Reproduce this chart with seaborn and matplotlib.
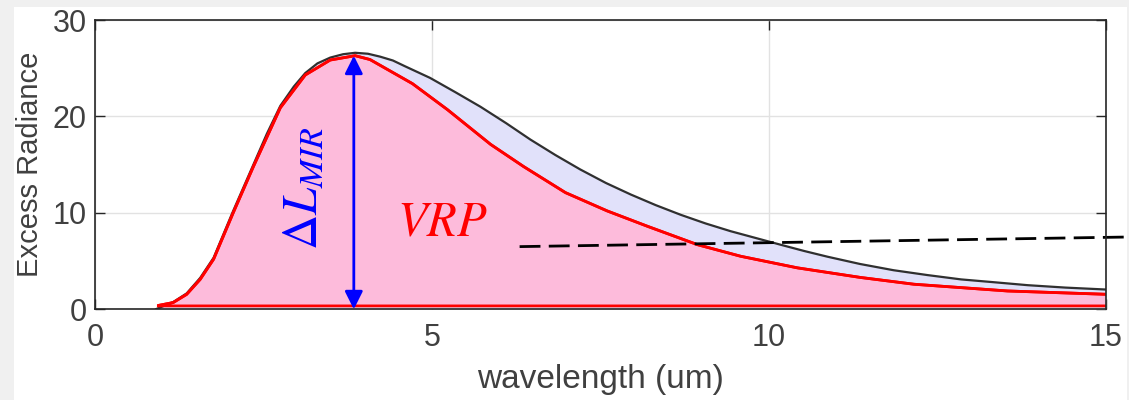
import numpy as np
import pandas as pd
import matplotlib
matplotlib.use("Agg")
import matplotlib.pyplot as plt
from matplotlib.patches import Rectangle
import seaborn as sns

# ---- data ----
black_x = [0.9, 1.16, 1.36, 1.56, 1.76, 2.05, 2.35, 2.55, 2.75, 2.95, 3.12, 3.3, 3.49, 3.68,
           3.86, 4.05, 4.23, 4.42, 4.6, 4.97, 5.35, 5.72, 6.1, 6.46, 6.83, 7.2, 7.58, 7.95,
           8.32, 8.69, 9.06, 9.43, 9.8, 10.17, 10.52, 10.87, 11.35, 11.85, 12.35, 12.85,
           13.35, 13.84, 14.4, 15.0]
black_y = [0.0, 0.75, 1.65, 3.25, 5.35, 10.2, 15.0, 18.2, 21.1, 23.1, 24.5, 25.5, 26.1, 26.45,
           26.6, 26.5, 26.2, 25.8, 25.2, 24.0, 22.5, 21.0, 19.3, 17.6, 16.0, 14.5, 13.1, 11.9,
           10.8, 9.8, 8.9, 8.1, 7.4, 6.7, 6.05, 5.45, 4.7, 4.05, 3.55, 3.1, 2.8, 2.5, 2.25,
           2.05]

red_x = [0.94, 1.16, 1.36, 1.56, 1.76, 2.05, 2.35, 2.75, 3.12, 3.49, 3.86, 4.08, 4.71, 5.23,
         5.87, 6.36, 6.98, 7.6, 8.2, 8.94, 9.58, 10.42, 11.36, 12.15, 13.54, 15.03]
red_y = [0.4, 0.7, 1.55, 3.1, 5.2, 10.0, 14.8, 20.9, 24.3, 25.85, 26.3, 25.9, 23.4, 20.7,
         17.1, 14.8, 12.1, 10.2, 8.6, 6.7, 5.5, 4.3, 3.3, 2.6, 1.9, 1.55]
red_base = 0.35
red_end_x = 15.06

dash_x = [6.3, 15.36]
dash_y = [6.5, 7.5]

arrow_x = 3.84
arrow_y = [0.0, 26.3]

x_ticks = [0, 5, 10, 15]
y_ticks = [0, 10, 20, 30]

sns.set_theme(style="whitegrid")
plt.rcParams['font.family'] = ['Liberation Sans', 'DejaVu Sans']
plt.rcParams['mathtext.fontset'] = 'stix'

fig = plt.figure(figsize=(11.29, 4.0), dpi=100, facecolor='#f0f0f0')
fig.patches.append(Rectangle((14 / 1129, 0), (1127 - 14) / 1129, (400 - 7) / 400,
                             transform=fig.transFigure, facecolor='white',
                             edgecolor='none', zorder=-10))
ax = fig.add_axes([95 / 1129, (400 - 309.3) / 400, (1106 - 95) / 1129, (309.3 - 20) / 400])
ax.set_facecolor('white')

df_black = pd.DataFrame({'wavelength': black_x, 'radiance': black_y})
df_red = pd.DataFrame({'wavelength': red_x, 'radiance': red_y})

# fills
ax.fill_between(black_x, 0, black_y, color='#e1e1fa', zorder=2, linewidth=0)
poly_x = red_x + [red_end_x, red_x[0]]
poly_y = red_y + [red_base, red_base]
ax.fill(poly_x, poly_y, facecolor='#fdbbdb', edgecolor='red', linewidth=2.0, zorder=3)

sns.lineplot(data=df_black, x='wavelength', y='radiance', ax=ax, color='#303030',
             linewidth=1.6, zorder=2.5, sort=False)
sns.lineplot(data=df_red, x='wavelength', y='radiance', ax=ax, color='red',
             linewidth=2.0, zorder=4, sort=False)

ax.plot(dash_x, dash_y, color='black', linestyle=(0, (7.5, 3.0)), linewidth=2.0,
        clip_on=False, zorder=5)

ax.annotate('', xy=(arrow_x, arrow_y[1]), xytext=(arrow_x, arrow_y[0]),
            arrowprops=dict(arrowstyle='<|-|>,head_length=0.4,head_width=0.2',
                            color='blue', lw=2.0, shrinkA=0, shrinkB=0,
                            mutation_scale=27), zorder=6)

ax.text(3.12, 12.6, r'$\Delta L_{MIR}$', color='blue', fontsize=35, rotation=90,
        ha='center', va='center', zorder=7)
ax.text(5.15, 8.9, r'$VRP$', color='red', fontsize=35, ha='center', va='center', zorder=7)

ax.set_xlim(0, 15)
ax.set_ylim(0, 30)
ax.set_xticks(x_ticks)
ax.set_yticks(y_ticks)
ax.set_xlabel('wavelength (um)', fontsize=24, color='#404040', labelpad=8)
ax.set_ylabel('Excess Radiance', fontsize=21, color='#404040', labelpad=6)
ax.tick_params(axis='both', which='both', direction='in', length=7, width=1,
               color='#262626', labelcolor='#404040', labelsize=22,
               top=True, right=True, bottom=True, left=True)
ax.tick_params(axis='x', pad=10)
ax.tick_params(axis='y', pad=6)
ax.grid(True, color='#e2e2e2', linewidth=1.0, zorder=0)
ax.set_axisbelow(True)
for s in ax.spines.values():
    s.set_visible(True)
    s.set_color('#262626')
    s.set_linewidth(1.2)
    s.set_zorder(8)

fig.savefig('out.png', dpi=100, facecolor=fig.get_facecolor())
